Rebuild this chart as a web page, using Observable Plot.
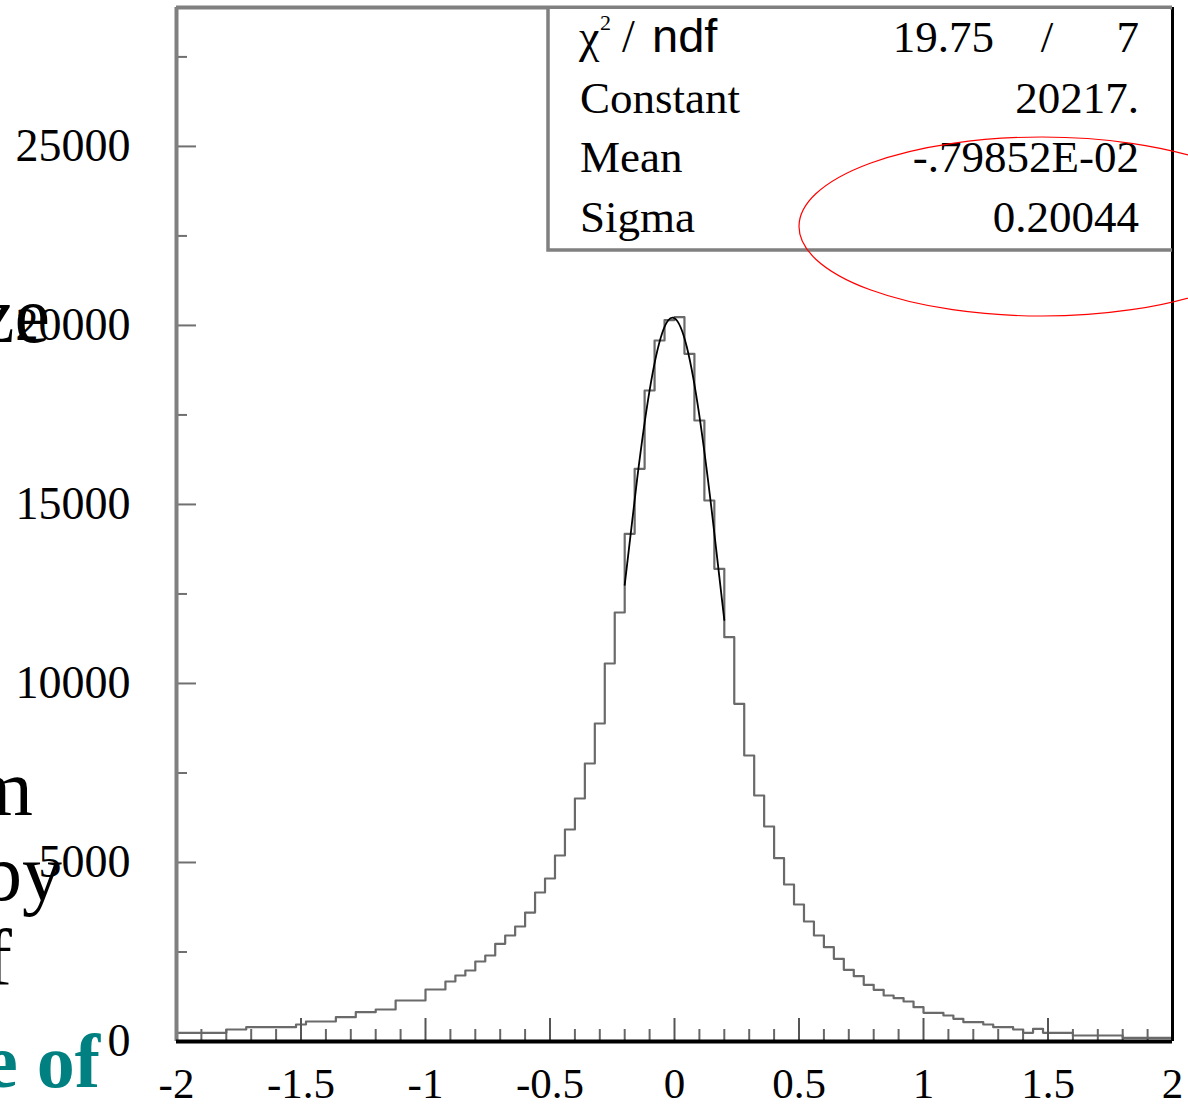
<!DOCTYPE html>
<html>
<head>
<meta charset="utf-8">
<script src="https://cdn.jsdelivr.net/npm/d3@7"></script>
<script src="https://cdn.jsdelivr.net/npm/@observablehq/plot@0.6"></script>
<style>
html,body{margin:0;padding:0;background:#fff;overflow:hidden;}
#wrap{position:relative;width:1188px;height:1109px;overflow:hidden;background:#fff;}
#wrap svg{position:absolute;left:0;top:0;}
.slide{position:absolute;font-family:"Liberation Serif",serif;font-size:80px;line-height:1;white-space:nowrap;color:#000;z-index:2;}
.slide.teal{color:#008080;font-weight:bold;font-size:76px;}
</style>
</head>
<body>
<div id="wrap"></div>
<script>
// ---- data ----
const binStart = -2;
const binWidth = 0.04;
const counts = [
  242,242,242,242,242, 335,335, 400,400,400,400,400, 475, 559,559,559, 680,680, 819,819,
  894,894, 1145,1145,1145, 1452,1452, 1676, 1843, 1983, 2234, 2402, 2729, 2961, 3212, 3600,
  4162, 4553, 5195, 5921, 6787, 7765, 8882, 10558, 11982, 14180, 15996, 18183, 19579, 20150,
  20230, 19208, 17345, 15110, 13203, 11292, 9432, 7988, 6871, 6005, 5120, 4385, 3826, 3352,
  2961, 2635, 2309, 2002, 1825, 1583, 1443, 1285, 1210, 1117, 958, 801, 801, 726, 633, 540,
  540, 475, 400, 400, 335, 242, 354, 242, 242, 242, 168, 168, 168, 168, 168, 100, 100, 100, 100, 100
];
const fitX = [-0.20, -0.15, -0.10, -0.05, 0.00, 0.05, 0.10, 0.15, 0.20];
const fitY = [12753, 15713, 18187, 19776, 20201, 19384, 17474, 14799, 11773];

const xLabelTicks = [-2, -1.5, -1, -0.5, 0, 0.5, 1, 1.5, 2];
const xMajorTicks = [-1.5, -1, -0.5, 0, 0.5, 1, 1.5];
const xMinorTicks = [-1.9,-1.8,-1.7,-1.6,-1.4,-1.3,-1.2,-1.1,-0.9,-0.8,-0.7,-0.6,-0.4,-0.3,-0.2,-0.1,
                     0.1,0.2,0.3,0.4,0.6,0.7,0.8,0.9,1.1,1.2,1.3,1.4,1.6,1.7,1.8,1.9];
const yLabelTicks = [0, 5000, 10000, 15000, 20000, 25000];
const yMajorTicks = [5000, 10000, 15000, 20000, 25000];
const yMinorTicks = [2500, 7500, 12500, 17500, 22500, 27500];
const yMax = 28880;

const chi2Value = "19.75";
const ndfValue = "7";
const statLabels = ["Constant", "Mean", "Sigma"];
const statValues = ["20217.", "-.79852E-02", "0.20044"];

// ---- build ----
const W = 1188, H = 1109, mL = 176, mR = 16, mT = 7, mB = 68;
const innerW = W - mL - mR, innerH = H - mT - mB;

const steps = [];
counts.forEach((c, i) => {
  const x0 = binStart + i * binWidth;
  steps.push({x: x0, y: c}, {x: x0 + binWidth, y: c});
});
const fit = fitX.map((x, i) => ({x, y: fitY[i]}));

const plot = Plot.plot({
  width: W, height: H,
  marginLeft: mL, marginRight: mR, marginTop: mT, marginBottom: mB,
  style: {fontFamily: "Liberation Serif", background: "transparent", overflow: "visible", color: "#000"},
  x: {domain: [-2, 2]},
  y: {domain: [0, yMax]},
  marks: [
    Plot.line(steps, {x: "x", y: "y", stroke: "#6a6a6a", strokeWidth: 2.2}),
    Plot.line(fit, {x: "x", y: "y", curve: "natural", stroke: "#000", strokeWidth: 1.8}),
    Plot.tickY(yMajorTicks, {y: d => d, insetRight: innerW - 20, stroke: "#707070", strokeWidth: 2}),
    Plot.tickY(yMinorTicks, {y: d => d, insetRight: innerW - 11, stroke: "#707070", strokeWidth: 2}),
    Plot.tickX(xMajorTicks, {x: d => d, insetTop: innerH - 23, stroke: "#555", strokeWidth: 2}),
    Plot.tickX(xMinorTicks, {x: d => d, insetTop: innerH - 12, stroke: "#666", strokeWidth: 2}),
    Plot.ruleX([-2], {stroke: "#808080", strokeWidth: 4}),
    Plot.ruleX([2], {stroke: "#000", strokeWidth: 3}),
    Plot.ruleY([0], {stroke: "#000", strokeWidth: 4}),
    Plot.ruleY([yMax], {stroke: "#808080", strokeWidth: 4}),
    Plot.axisX({ticks: xLabelTicks, tickSize: 0, tickPadding: 26, tickFormat: d => String(d), fontSize: 43, label: null}),
    Plot.axisY({ticks: yLabelTicks, tickSize: 0, tickPadding: 46, tickFormat: d => String(d), fontSize: 46, label: null})
  ]
});

const wrap = document.getElementById("wrap");
wrap.appendChild(plot);

// ---- statistics box ----
const svg = d3.select(plot);
const g = svg.append("g").attr("font-family", "Liberation Serif").attr("fill", "#000").attr("text-anchor", "start");
const bx0 = 548, by1 = 250, bx1 = W - mR;
g.append("rect").attr("x", bx0).attr("y", mT + 2).attr("width", bx1 - bx0 - 2).attr("height", by1 - mT - 2).attr("fill", "#fff");
g.append("path").attr("d", `M${bx0},${mT} V${by1} H${bx1}`).attr("fill", "none").attr("stroke", "#808080").attr("stroke-width", 3.5);

// row 1: chi2 / ndf
g.append("text").attr("x", 579).attr("y", 52).attr("font-size", 46).attr("text-anchor", "start").text("\u03c7");
g.append("text").attr("x", 600).attr("y", 30).attr("font-size", 22).attr("text-anchor", "start").text("2");
g.append("text").attr("x", 622).attr("y", 52).attr("font-size", 46).attr("text-anchor", "start").text("/");
g.append("text").attr("x", 652).attr("y", 52).attr("font-size", 47).attr("font-family", "Liberation Sans").attr("text-anchor", "start").text("ndf");
g.append("text").attr("x", 994).attr("y", 52).attr("font-size", 45).attr("text-anchor", "end").text(chi2Value);
g.append("text").attr("x", 1047).attr("y", 52).attr("font-size", 45).attr("text-anchor", "middle").text("/");
g.append("text").attr("x", 1139).attr("y", 52).attr("font-size", 45).attr("text-anchor", "end").text(ndfValue);

const rowY = [113, 172, 232];
statLabels.forEach((lab, i) => {
  g.append("text").attr("x", 580).attr("y", rowY[i]).attr("font-size", 45).attr("text-anchor", "start").text(lab);
  g.append("text").attr("x", 1139).attr("y", rowY[i]).attr("font-size", 45).attr("text-anchor", "end").text(statValues[i]);
});

// red ellipse annotation
svg.append("ellipse").attr("cx", 1042).attr("cy", 226.5).attr("rx", 243).attr("ry", 89.5)
  .attr("fill", "none").attr("stroke", "#ff0000").attr("stroke-width", 1.2);

// ---- slide text fragments on the left ----
const frags = [
  {t: "ze", right: 50, base: 342, cls: "slide"},
  {t: "m", right: 33, base: 815, cls: "slide"},
  {t: "by", right: 62, base: 900, cls: "slide"},
  {t: "f", right: 12, base: 985, cls: "slide"},
  {t: "e of", right: 100, base: 1087, cls: "slide teal"}
];
frags.forEach(f => {
  const d = document.createElement("div");
  d.className = f.cls;
  d.textContent = f.t;
  const fs = f.cls.includes("teal") ? 76 : 80;
  const off = (fs - fs * 1.107) / 2 + fs * 0.891;
  d.style.top = (f.base - off) + "px";
  d.style.right = (W - f.right) + "px";
  wrap.appendChild(d);
});
</script>
</body>
</html>
